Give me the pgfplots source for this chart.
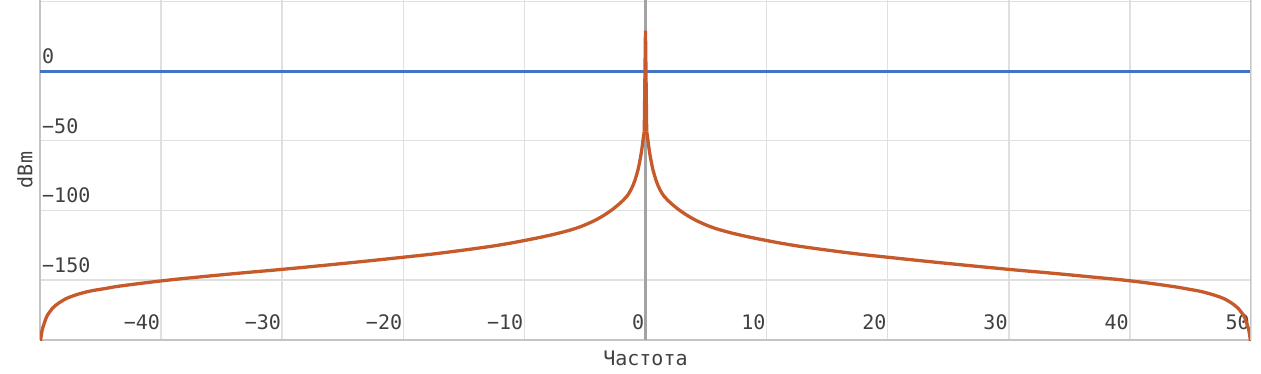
\documentclass[border=0pt]{standalone}
\usepackage{fontspec}
\setmainfont{DejaVu Sans Mono}
\usepackage{pgfplots}
\pgfplotsset{compat=1.18}
\definecolor{gridc}{HTML}{E0E0E0}
\definecolor{axisc}{HTML}{C4C4C4}
\definecolor{zeroc}{HTML}{A3A3A3}
\definecolor{txtc}{HTML}{404040}
\definecolor{blueline}{HTML}{4472C4}
\definecolor{orangeline}{HTML}{C65A2A}
\pgfplotstableread{
x y
-49.97 -196
-49.93 -191.7
-49.8 -185.0
-49.65 -181.0
-49.38 -175.0
-48.97 -170.2
-48.28 -165.5
-47.45 -161.9
-46.07 -158.3
-44.5 -155.9
-43.32 -154.2
-40 -150.6
-37 -147.9
-33.5 -145.0
-30 -142.3
-25 -138.1
-20 -133.6
-17 -130.7
-13.5 -126.7
-11.7 -124.3
-10 -121.6
-8.3 -118.6
-6.8 -115.5
-5.6 -112.4
-4.6 -108.9
-3.76 -105.2
-2.9 -100.4
-2.2 -95.6
-1.85 -92.8
-1.55 -90.0
-1.2 -85.2
-0.87 -78.4
-0.65 -72.0
-0.45 -63.8
-0.3 -56.0
-0.18 -48.0
-0.1 -43.5
}\leftbranch
\pgfplotstableread{
x y
0.1 -43.5
0.18 -48.0
0.3 -56.0
0.45 -63.8
0.65 -72.0
0.87 -78.4
1.2 -85.2
1.55 -90.0
1.85 -92.8
2.2 -95.6
2.9 -100.4
3.76 -105.2
4.6 -108.9
5.6 -112.4
6.8 -115.5
8.3 -118.6
10 -121.6
11.7 -124.3
13.5 -126.7
17 -130.7
20 -133.6
25 -138.1
30 -142.3
33.5 -145.0
37 -147.9
40 -150.5
43.32 -154.3
44.9 -156.6
46.07 -158.6
47.45 -162.2
48.28 -165.8
48.97 -170.5
49.38 -175.0
49.65 -181.0
49.8 -185.0
49.93 -191.7
49.97 -196
}\rightbranch
\pgfplotstableread{
x y
-0.1 -43.5
0 29
0.1 -43.5
}\spike
\begin{document}
\begin{tikzpicture}
\useasboundingbox (0pt,0pt) rectangle (1261pt,373pt);
\begin{axis}[
  at={(40pt,33pt)}, anchor=south west,
  scale only axis, width=1211pt, height=340pt,
  xmin=-50, xmax=50, ymin=-193, ymax=51,
  axis lines*=left,
  axis line style={draw=axisc, line width=2pt},
  major tick length=0pt,
  grid=major,
  major grid style={draw=gridc, line width=1.5pt},
  xtick={-40,-30,-20,-10,10,20,30,40,50},
  xticklabels={−40,−30,−20,−10,10,20,30,40,50},
  extra x ticks={0},
  extra x tick labels={0},
  extra x tick style={major grid style={draw=zeroc, line width=2.2pt}},
  ytick={-150,-100,-50,0,50},
  yticklabels={−150,−100,−50,0,{}},
  tick label style={font=\fontsize{20}{20}\selectfont, text=txtc, inner sep=0pt},
  xticklabel style={anchor=base east, yshift=11pt, xshift=-1pt},
  yticklabel style={anchor=south west, xshift=2pt, yshift=7pt},
  xlabel={Частота},
  ylabel={dBm},
  label style={font=\fontsize{20}{20}\selectfont, text=txtc},
  xlabel style={at={(axis description cs:0.5,0)}, anchor=center, yshift=-18pt},
  ylabel style={at={(axis description cs:-0.0124,0.5)}, anchor=center},
  clip=true,
]
\addplot[blueline, line width=2.9pt] coordinates {(-50,0) (50,0)};
\addplot[orangeline, line width=3.3pt, smooth, tension=0.7] table[x=x,y=y] {\leftbranch};
\addplot[orangeline, line width=3.3pt, line join=miter] table[x=x,y=y] {\spike};
\addplot[orangeline, line width=3.3pt, smooth, tension=0.7] table[x=x,y=y] {\rightbranch};
\draw[axisc, line width=2pt] (rel axis cs:1,0) -- (rel axis cs:1,1);
\end{axis}
\end{tikzpicture}
\end{document}
